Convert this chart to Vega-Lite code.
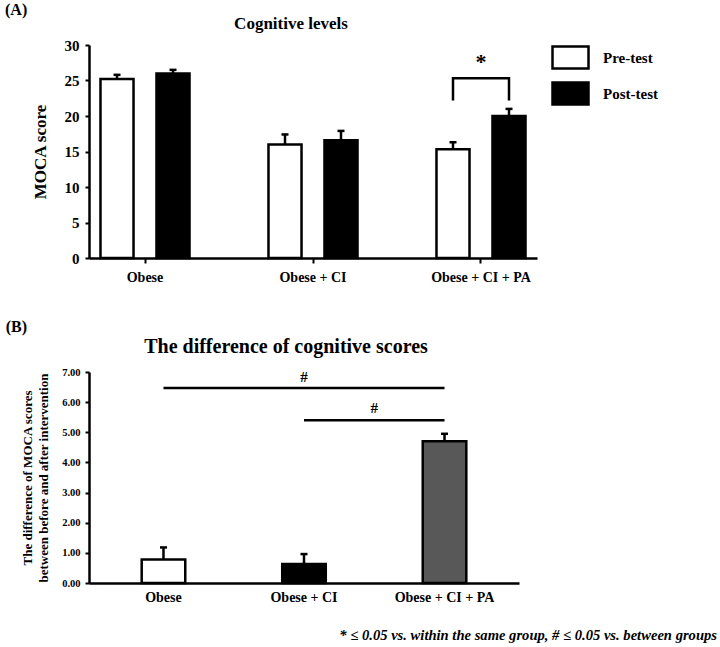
{
  "$schema": "https://vega.github.io/schema/vega-lite/v6.json",
  "padding": {"left": 5, "top": 2, "right": 0, "bottom": 0},
  "background": "white",
  "config": {
    "font": "Liberation Serif",
    "view": {"stroke": null},
    "axis": {"domainColor": "black", "domainWidth": 2.5, "tickColor": "black", "tickWidth": 2, "labelColor": "black", "titleColor": "black", "labelFont": "Liberation Serif", "titleFont": "Liberation Serif", "labelFontWeight": "bold", "titleFontWeight": "bold", "grid": false, "labelOverlap": false},
    "title": {"font": "Liberation Serif", "fontWeight": "bold", "color": "black"},
    "concat": {"spacing": 35}
  },
  "resolve": {"scale": {"color": "independent"}, "legend": {"color": "independent"}},
  "title": {"text": "* ≤ 0.05 vs. within the same group, # ≤ 0.05 vs. between groups", "orient": "bottom", "anchor": "end", "fontSize": 14.6, "fontStyle": "italic", "fontWeight": "bold", "dx": 59, "offset": 24},
  "datasets": {
    "a": [
      {"group": "Obese", "test": "Pre-test", "score": 25.2, "upper": 25.8},
      {"group": "Obese", "test": "Post-test", "score": 26.0, "upper": 26.5},
      {"group": "Obese + CI", "test": "Pre-test", "score": 16.0, "upper": 17.4},
      {"group": "Obese + CI", "test": "Post-test", "score": 16.6, "upper": 17.9},
      {"group": "Obese + CI + PA", "test": "Pre-test", "score": 15.3, "upper": 16.3},
      {"group": "Obese + CI + PA", "test": "Post-test", "score": 20.0, "upper": 21.0}
    ],
    "bracket": [
      {"group": "Obese + CI + PA", "test": "Pre-test", "y": 22.2, "ord": 1},
      {"group": "Obese + CI + PA", "test": "Pre-test", "y": 25.3, "ord": 2},
      {"group": "Obese + CI + PA", "test": "Post-test", "y": 25.3, "ord": 3},
      {"group": "Obese + CI + PA", "test": "Post-test", "y": 22.2, "ord": 4}
    ],
    "star": [{"group": "Obese + CI + PA", "label": "*", "y": 27.6}],
    "b": [
      {"group": "Obese", "diff": 0.78, "upper": 1.18},
      {"group": "Obese + CI", "diff": 0.63, "upper": 0.96},
      {"group": "Obese + CI + PA", "diff": 4.70, "upper": 4.95}
    ],
    "lines": [
      {"from": "Obese", "to": "Obese + CI + PA", "y": 6.47},
      {"from": "Obese + CI", "to": "Obese + CI + PA", "y": 5.4}
    ],
    "hash1": [{"at": "Obese + CI", "label": "#", "y": 6.82}],
    "hash2": [{"at": "Obese + CI", "label": "#", "y": 5.79}]
  },
  "vconcat": [
    {
      "title": {"text": "(A)", "anchor": "start", "frame": "bounds", "fontSize": 16, "dx": -26, "offset": -3},
      "vconcat": [
        {
          "title": {"text": "Cognitive levels", "fontSize": 17, "dx": -22, "offset": 5},
          "width": 448,
          "height": 213,
          "layer": [
            {
              "data": {"name": "a"},
              "mark": {"type": "bar", "stroke": "black", "strokeWidth": 2.5},
              "encoding": {
                "x": {"field": "group", "type": "nominal", "sort": ["Obese", "Obese + CI", "Obese + CI + PA"], "scale": {"paddingInner": 0.3333, "paddingOuter": 0}, "axis": {"title": null, "labelAngle": 0, "labelFontSize": 14, "labelPadding": 7, "tickSize": 5}},
                "xOffset": {"field": "test", "type": "nominal", "sort": ["Pre-test", "Post-test"], "scale": {"paddingInner": 0.41, "paddingOuter": 0.205}},
                "y": {"field": "score", "type": "quantitative", "scale": {"domain": [0, 30]}, "axis": {"values": [0, 5, 10, 15, 20, 25, 30], "tickCount": 7, "labelOverlap": false, "title": "MOCA score", "titleFontSize": 17, "labelFontSize": 15, "tickSize": 4, "labelPadding": 6, "titlePadding": 15}},
                "color": {"field": "test", "type": "nominal", "sort": ["Pre-test", "Post-test"], "scale": {"domain": ["Pre-test", "Post-test"], "range": ["white", "black"]},
                  "legend": {"title": null, "orient": "none", "legendX": 462, "legendY": -7, "symbolType": "M-1,-0.611L1,-0.611L1,0.611L-1,0.611Z", "symbolSize": 1296, "symbolStrokeColor": "black", "symbolStrokeWidth": 2.5, "symbolOpacity": 1, "labelFontSize": 15, "labelFont": "Liberation Serif", "labelFontWeight": "bold", "labelColor": "black", "labelOffset": 13, "rowPadding": 0}}
              }
            },
            {
              "data": {"name": "a"},
              "mark": {"type": "rule", "strokeWidth": 2.5, "color": "black"},
              "encoding": {
                "x": {"field": "group", "type": "nominal", "sort": ["Obese", "Obese + CI", "Obese + CI + PA"]},
                "xOffset": {"field": "test", "type": "nominal", "sort": ["Pre-test", "Post-test"]},
                "y": {"field": "score", "type": "quantitative", "axis": {"values": [0, 5, 10, 15, 20, 25, 30], "tickCount": 7, "labelOverlap": false, "title": "MOCA score", "titleFontSize": 17, "labelFontSize": 15, "tickSize": 4, "labelPadding": 6, "titlePadding": 15}},
                "y2": {"field": "upper"}
              }
            },
            {
              "data": {"name": "a"},
              "mark": {"type": "tick", "thickness": 2.5, "size": 7, "color": "black", "opacity": 1},
              "encoding": {
                "x": {"field": "group", "type": "nominal", "sort": ["Obese", "Obese + CI", "Obese + CI + PA"]},
                "xOffset": {"field": "test", "type": "nominal", "sort": ["Pre-test", "Post-test"]},
                "y": {"field": "upper", "type": "quantitative", "axis": {"values": [0, 5, 10, 15, 20, 25, 30], "tickCount": 7, "labelOverlap": false, "title": "MOCA score", "titleFontSize": 17, "labelFontSize": 15, "tickSize": 4, "labelPadding": 6, "titlePadding": 15}}
              }
            },
            {
              "data": {"name": "bracket"},
              "mark": {"type": "line", "strokeWidth": 2.5, "color": "black"},
              "encoding": {
                "x": {"field": "group", "type": "nominal", "sort": ["Obese", "Obese + CI", "Obese + CI + PA"]},
                "xOffset": {"field": "test", "type": "nominal", "sort": ["Pre-test", "Post-test"]},
                "y": {"field": "y", "type": "quantitative", "axis": {"values": [0, 5, 10, 15, 20, 25, 30], "tickCount": 7, "labelOverlap": false, "title": "MOCA score", "titleFontSize": 17, "labelFontSize": 15, "tickSize": 4, "labelPadding": 6, "titlePadding": 15}},
                "order": {"field": "ord", "type": "quantitative"}
              }
            },
            {
              "data": {"name": "star"},
              "mark": {"type": "text", "fontSize": 22, "fontWeight": "bold", "baseline": "middle", "color": "black", "font": "Liberation Serif"},
              "encoding": {
                "x": {"field": "group", "type": "nominal", "sort": ["Obese", "Obese + CI", "Obese + CI + PA"]},
                "y": {"field": "y", "type": "quantitative", "axis": {"values": [0, 5, 10, 15, 20, 25, 30], "tickCount": 7, "labelOverlap": false, "title": "MOCA score", "titleFontSize": 17, "labelFontSize": 15, "tickSize": 4, "labelPadding": 6, "titlePadding": 15}},
                "text": {"field": "label"}
              }
            }
          ]
        }
      ]
    },
    {
      "title": {"text": "(B)", "anchor": "start", "frame": "bounds", "fontSize": 16, "dx": -16, "offset": 2},
      "vconcat": [
        {
          "title": {"text": "The difference of cognitive scores", "fontSize": 20, "dx": -18, "offset": 10},
          "width": 430,
          "height": 211,
          "layer": [
            {
              "data": {"name": "b"},
              "mark": {"type": "bar", "stroke": "black", "strokeWidth": 2.5, "width": {"band": 0.31}},
              "encoding": {
                "x": {"field": "group", "type": "nominal", "sort": ["Obese", "Obese + CI", "Obese + CI + PA"], "scale": {"paddingInner": 0, "paddingOuter": 0.03}, "axis": {"title": null, "labelAngle": 0, "labelFontSize": 14, "labelPadding": 7, "ticks": false}},
                "y": {"field": "diff", "type": "quantitative", "scale": {"domain": [0, 7]}, "axis": {"values": [0, 1, 2, 3, 4, 5, 6, 7], "tickCount": 8, "labelOverlap": false, "format": ".2f", "title": ["The difference of MOCA scores", "between before and after intervention"], "titleFontSize": 13, "titleLineHeight": 16, "labelFontSize": 10.5, "tickSize": 4, "labelPadding": 5, "titlePadding": 11}},
                "color": {"field": "group", "type": "nominal", "scale": {"domain": ["Obese", "Obese + CI", "Obese + CI + PA"], "range": ["white", "black", "#585858"]}, "legend": null}
              }
            },
            {
              "data": {"name": "b"},
              "mark": {"type": "rule", "strokeWidth": 2.5, "color": "black"},
              "encoding": {
                "x": {"field": "group", "type": "nominal", "sort": ["Obese", "Obese + CI", "Obese + CI + PA"]},
                "y": {"field": "diff", "type": "quantitative", "axis": {"values": [0, 1, 2, 3, 4, 5, 6, 7], "tickCount": 8, "labelOverlap": false, "format": ".2f", "title": ["The difference of MOCA scores", "between before and after intervention"], "titleFontSize": 13, "titleLineHeight": 16, "labelFontSize": 10.5, "tickSize": 4, "labelPadding": 5, "titlePadding": 11}},
                "y2": {"field": "upper"}
              }
            },
            {
              "data": {"name": "b"},
              "mark": {"type": "tick", "thickness": 2.5, "size": 7, "color": "black", "opacity": 1},
              "encoding": {
                "x": {"field": "group", "type": "nominal", "sort": ["Obese", "Obese + CI", "Obese + CI + PA"]},
                "y": {"field": "upper", "type": "quantitative", "axis": {"values": [0, 1, 2, 3, 4, 5, 6, 7], "tickCount": 8, "labelOverlap": false, "format": ".2f", "title": ["The difference of MOCA scores", "between before and after intervention"], "titleFontSize": 13, "titleLineHeight": 16, "labelFontSize": 10.5, "tickSize": 4, "labelPadding": 5, "titlePadding": 11}}
              }
            },
            {
              "data": {"name": "lines"},
              "mark": {"type": "rule", "strokeWidth": 2.5, "color": "black"},
              "encoding": {
                "x": {"field": "from", "type": "nominal", "sort": ["Obese", "Obese + CI", "Obese + CI + PA"]},
                "x2": {"field": "to"},
                "y": {"field": "y", "type": "quantitative", "axis": {"values": [0, 1, 2, 3, 4, 5, 6, 7], "tickCount": 8, "labelOverlap": false, "format": ".2f", "title": ["The difference of MOCA scores", "between before and after intervention"], "titleFontSize": 13, "titleLineHeight": 16, "labelFontSize": 10.5, "tickSize": 4, "labelPadding": 5, "titlePadding": 11}}
              }
            },
            {
              "data": {"name": "hash1"},
              "mark": {"type": "text", "fontSize": 15, "fontWeight": "bold", "baseline": "middle", "color": "black", "font": "Liberation Serif"},
              "encoding": {
                "x": {"field": "at", "type": "nominal", "sort": ["Obese", "Obese + CI", "Obese + CI + PA"]},
                "y": {"field": "y", "type": "quantitative", "axis": {"values": [0, 1, 2, 3, 4, 5, 6, 7], "tickCount": 8, "labelOverlap": false, "format": ".2f", "title": ["The difference of MOCA scores", "between before and after intervention"], "titleFontSize": 13, "titleLineHeight": 16, "labelFontSize": 10.5, "tickSize": 4, "labelPadding": 5, "titlePadding": 11}},
                "text": {"field": "label"}
              }
            },
            {
              "data": {"name": "hash2"},
              "mark": {"type": "text", "fontSize": 15, "fontWeight": "bold", "baseline": "middle", "color": "black", "font": "Liberation Serif"},
              "encoding": {
                "x": {"field": "at", "type": "nominal", "sort": ["Obese", "Obese + CI", "Obese + CI + PA"], "bandPosition": 1},
                "y": {"field": "y", "type": "quantitative", "axis": {"values": [0, 1, 2, 3, 4, 5, 6, 7], "tickCount": 8, "labelOverlap": false, "format": ".2f", "title": ["The difference of MOCA scores", "between before and after intervention"], "titleFontSize": 13, "titleLineHeight": 16, "labelFontSize": 10.5, "tickSize": 4, "labelPadding": 5, "titlePadding": 11}},
                "text": {"field": "label"}
              }
            }
          ]
        }
      ]
    }
  ]
}
